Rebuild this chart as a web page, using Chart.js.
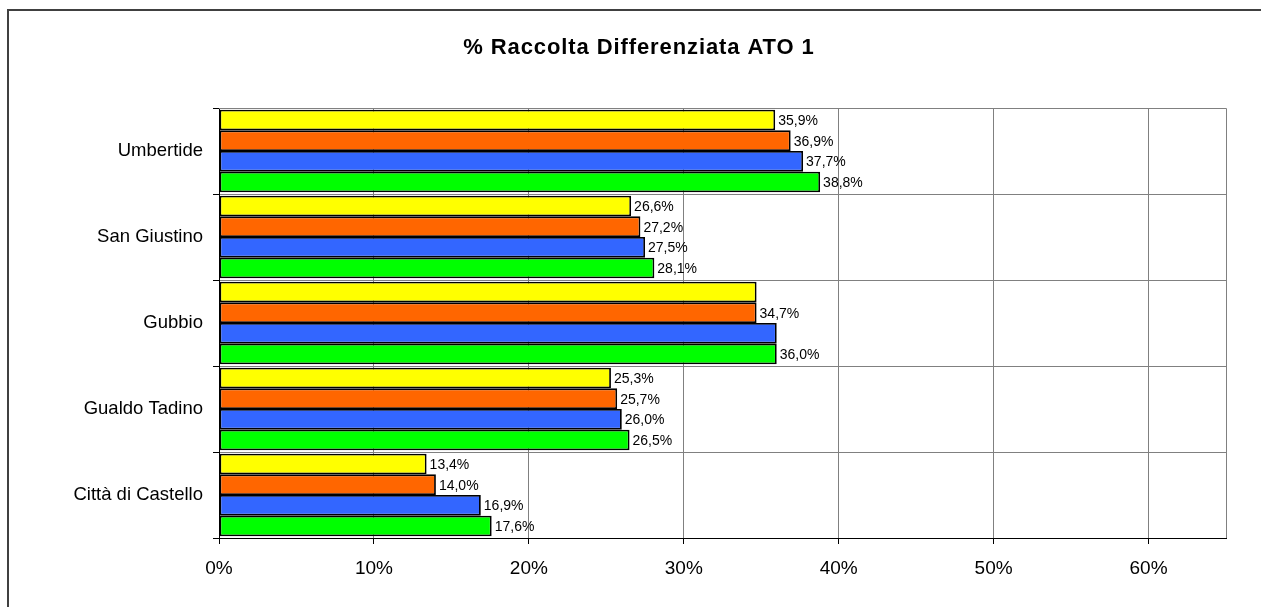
<!DOCTYPE html>
<html>
<head>
<meta charset="utf-8">
<script src="https://cdn.jsdelivr.net/npm/chart.js@4.4.1/dist/chart.umd.min.js"></script>
<style>
  html, body { margin: 0; padding: 0; background: #fff; }
  canvas { display: block; }
</style>
</head>
<body>
<canvas id="barChart" width="1261" height="607"></canvas>
<script>
const CATEGORIES = ["Umbertide", "San Giustino", "Gubbio", "Gualdo Tadino", "Città di Castello"];
const SERIES_1 = [35.9, 26.6, 34.7, 25.3, 13.4];
const SERIES_2 = [36.9, 27.2, 34.7, 25.7, 14.0];
const SERIES_3 = [37.7, 27.5, 36.0, 26.0, 16.9];
const SERIES_4 = [38.8, 28.1, 36.0, 26.5, 17.6];
const X_TICKS = [0, 10, 20, 30, 40, 50, 60];
const TITLE = "% Raccolta Differenziata ATO 1";
// labels that are not shown in the original: [dataset, category]
const HIDDEN_LABELS = [[0, 2], [2, 2]];

const FONT = "Arial, 'Liberation Sans', sans-serif";

function fmt(v) {
    return v.toFixed(1).replace('.', ',') + '%';
}

const decorations = {
    id: 'decorations',
    beforeDraw(chart) {
        const ctx = chart.ctx;
        ctx.save();
        // outer chart frame (only top/left visible)
        ctx.strokeStyle = '#404040';
        ctx.lineWidth = 2;
        ctx.beginPath();
        ctx.moveTo(8, 700);
        ctx.lineTo(8, 10);
        ctx.lineTo(1300, 10);
        ctx.stroke();
        // title
        ctx.fillStyle = '#000';
        ctx.font = "bold 22px " + FONT;
        ctx.letterSpacing = '0.9px';
        ctx.textAlign = 'center';
        ctx.textBaseline = 'middle';
        ctx.fillText(TITLE, 639, 48);
        ctx.restore();
    },
    afterDraw(chart) {
        const ctx = chart.ctx;
        const a = chart.chartArea;
        ctx.save();
        ctx.strokeStyle = '#808080';
        ctx.lineWidth = 1;
        ctx.beginPath();
        ctx.moveTo(a.left, a.top + 0.5);
        ctx.lineTo(Math.round(a.right) + 0.5, a.top + 0.5);
        ctx.lineTo(Math.round(a.right) + 0.5, a.bottom);
        ctx.stroke();
        // value labels
        ctx.fillStyle = '#000';
        ctx.font = "14px " + FONT;
        ctx.textAlign = 'left';
        ctx.textBaseline = 'middle';
        chart.data.datasets.forEach((ds, di) => {
            const meta = chart.getDatasetMeta(di);
            meta.data.forEach((bar, i) => {
                if (HIDDEN_LABELS.some(h => h[0] === di && h[1] === i)) return;
                ctx.fillText(fmt(ds.data[i]), bar.x + 3, bar.y + 1);
            });
        });
        ctx.restore();
    }
};

const CHART = document.getElementById("barChart");
let barChart = new Chart(CHART, {
    type: 'bar',
    data: {
        labels: CATEGORIES,
        datasets: [
            { data: SERIES_1, backgroundColor: "#FFFF00" },
            { data: SERIES_2, backgroundColor: "#FF6600" },
            { data: SERIES_3, backgroundColor: "#3366FF" },
            { data: SERIES_4, backgroundColor: "#00FF00" }
        ].map(d => Object.assign(d, {
            borderColor: "#000",
            borderWidth: 1.8,
            borderSkipped: false,
            barPercentage: 1.0,
            categoryPercentage: 0.96
        }))
    },
    options: {
        indexAxis: 'y',
        responsive: false,
        animation: false,
        layout: { padding: { top: 108, right: 35, left: 0, bottom: 0 } },
        plugins: {
            legend: { display: false },
            title: { display: false },
            tooltip: { enabled: false }
        },
        scales: {
            x: {
                min: 0,
                max: 65,
                afterBuildTicks(scale) {
                    scale.ticks = X_TICKS.map(v => ({ value: v }));
                },
                afterFit(scale) { scale.height = 69; },
                ticks: {
                    callback: v => v + '%',
                    color: '#000',
                    font: { family: FONT, size: 19 },
                    padding: 13,
                    maxRotation: 0
                },
                grid: { color: '#808080', tickLength: 6, tickColor: '#000' },
                border: { color: '#000', width: 1 }
            },
            y: {
                afterFit(scale) { scale.width = 219; },
                ticks: {
                    color: '#000',
                    font: { family: FONT, size: 18.5 },
                    padding: 10
                },
                grid: { offset: true, color: '#808080', tickLength: 6, tickColor: '#000' },
                border: { color: '#000', width: 1 }
            }
        }
    },
    plugins: [decorations]
});
</script>
</body>
</html>
